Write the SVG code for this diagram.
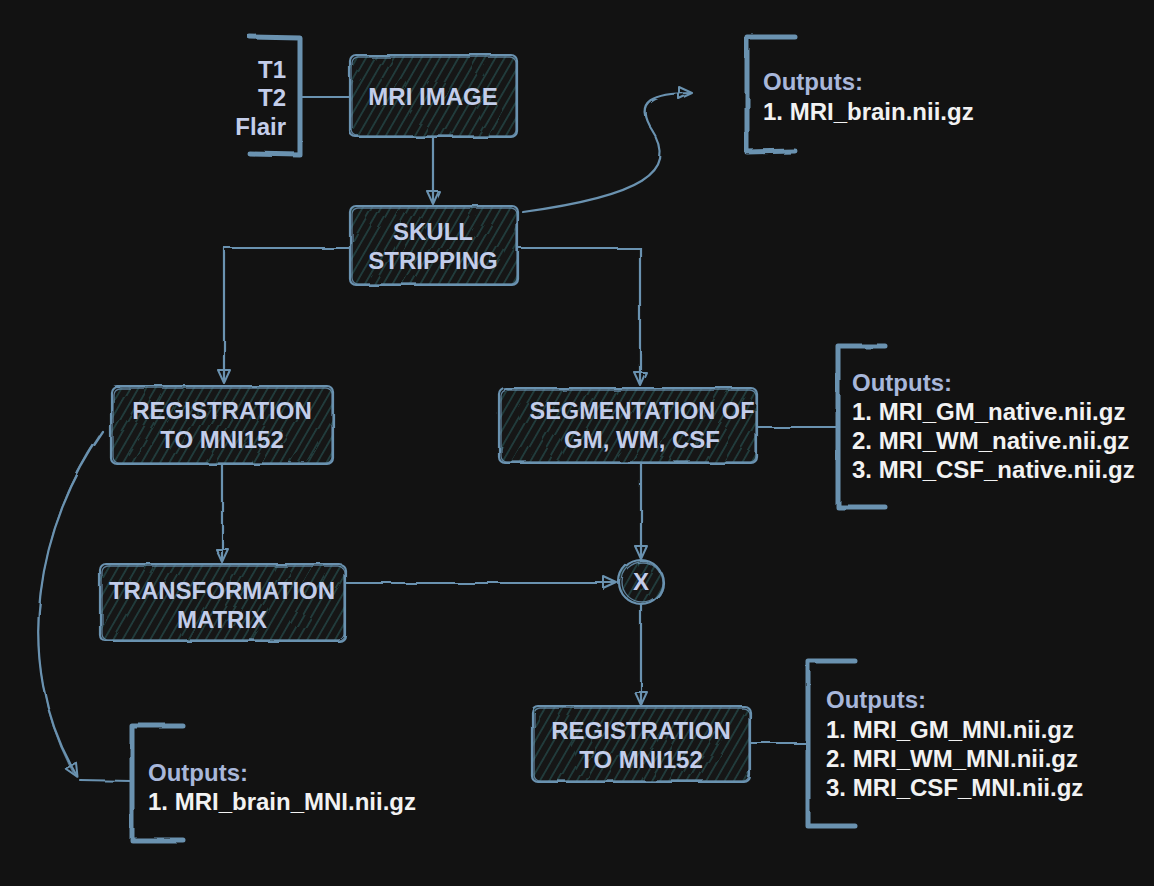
<svg xmlns="http://www.w3.org/2000/svg" width="1154" height="886" viewBox="0 0 1154 886">
<defs>
<style>
.bg{fill:#121212}
.box{fill:url(#hatch);stroke:#6a92b0;stroke-width:2.2;stroke-linejoin:round}
.box2{fill:none;stroke:#6a92b0;stroke-width:1.3;opacity:.85}
.br{fill:none;stroke:#6a92b0;stroke-width:5;stroke-linecap:round;stroke-linejoin:round}
.con{fill:none;stroke:#6a92b0;stroke-width:2.2;stroke-linecap:round}
.con2{fill:none;stroke:#6a92b0;stroke-width:1.2;stroke-linecap:round;opacity:.8}
.t{font-family:"Liberation Sans",Arial,Helvetica,sans-serif;font-weight:bold;font-size:24px;fill:#c3cdea;text-anchor:middle}
.h{font-family:"Liberation Sans",Arial,Helvetica,sans-serif;font-weight:bold;font-size:24px;fill:#a8b7da}
.o{font-family:"Liberation Sans",Arial,Helvetica,sans-serif;font-weight:bold;font-size:24px;fill:#f2f2f2}
</style>
<pattern id="hatch" patternUnits="userSpaceOnUse" width="8" height="8" patternTransform="rotate(30)">
<rect width="8" height="8" fill="#121212"/>
<line x1="2" y1="0" x2="2" y2="8" stroke="#285050" stroke-width="1.3"/>
</pattern>
<marker id="arr" markerWidth="16" markerHeight="14" refX="13" refY="7" orient="auto" markerUnits="userSpaceOnUse">
<path d="M1,1 L14,7 L1,13 Z" fill="none" stroke="#6a92b0" stroke-width="2" stroke-linejoin="round"/>
</marker>
<filter id="rough" x="-5%" y="-5%" width="110%" height="110%">
<feTurbulence type="fractalNoise" baseFrequency="0.03" numOctaves="2" seed="3"/>
<feDisplacementMap in="SourceGraphic" scale="3"/>
</filter>
</defs>
<rect class="bg" x="0" y="0" width="1154" height="886"/>

<g id="connectors" filter="url(#rough)">
<path class="con" d="M300,97 L350,97"/>
<path class="con" d="M433,137 L433,203" marker-end="url(#arr)"/>
<path class="con" d="M523,212 C640,196 680,172 652,130 C632,100 655,93 691,93" marker-end="url(#arr)"/>
<path class="con" d="M350,248 L224,248 L224,382" marker-end="url(#arr)"/>
<path class="con" d="M517,248 L640,248 L640,384" marker-end="url(#arr)"/>
<path class="con" d="M222,464 L222,561" marker-end="url(#arr)"/>
<path class="con" d="M641,463 L641,558" marker-end="url(#arr)"/>
<path class="con" d="M345,583 L616,583" marker-end="url(#arr)"/>
<path class="con" d="M641,604 L641,704" marker-end="url(#arr)"/>
<path class="con" d="M103,432 C40,520 8,660 77,776" marker-end="url(#arr)"/>
<path class="con2" d="M99,436 C38,525 12,662 74,774"/>
<path class="con" d="M80,780 L131,781"/>
<path class="con" d="M757,427 L836,427"/>
<path class="con" d="M750,743 L806,743"/>
</g>

<g id="bracket-inputs">
<path class="br" d="M250,37 L300,38 L300,155 L250,154" filter="url(#rough)"/>
<text class="t" style="text-anchor:end" x="286" y="78">T1</text>
<text class="t" style="text-anchor:end" x="286" y="106">T2</text>
<text class="t" style="text-anchor:end" x="286" y="135">Flair</text>
</g>

<g id="mri-image">
<rect class="box" x="350" y="55" width="167" height="82" rx="6" filter="url(#rough)"/>
<rect class="box2" x="352" y="57" width="164" height="79" rx="6" filter="url(#rough)"/>
<text class="t" x="433" y="105">MRI IMAGE</text>
</g>

<g id="skull-stripping">
<rect class="box" x="350" y="206" width="168" height="79" rx="6" filter="url(#rough)"/>
<rect class="box2" x="352" y="208" width="165" height="76" rx="6" filter="url(#rough)"/>
<text class="t" x="433" y="240">SKULL</text>
<text class="t" x="433" y="269">STRIPPING</text>
</g>

<g id="outputs-brain">
<path class="br" d="M795,37 L747,37 L747,152 L795,151" filter="url(#rough)"/>
<text class="h" x="763" y="90">Outputs:</text>
<text class="o" x="763" y="120">1. MRI_brain.nii.gz</text>
</g>

<g id="registration">
<rect class="box" x="111" y="386" width="222" height="78" rx="6" filter="url(#rough)"/>
<rect class="box2" x="113" y="388" width="219" height="75" rx="6" filter="url(#rough)"/>
<text class="t" x="222" y="419">REGISTRATION</text>
<text class="t" x="222" y="448">TO MNI152</text>
</g>

<g id="segmentation">
<rect class="box" x="499" y="388" width="258" height="75" rx="6" filter="url(#rough)"/>
<rect class="box2" x="501" y="390" width="255" height="72" rx="6" filter="url(#rough)"/>
<text class="t" x="642" y="419" style="font-size:23.5px">SEGMENTATION OF</text>
<text class="t" x="642" y="448">GM, WM, CSF</text>
</g>

<g id="outputs-native">
<path class="br" d="M885,346 L838,346 L838,507 L885,507" filter="url(#rough)"/>
<text class="h" x="852" y="391">Outputs:</text>
<text class="o" x="852" y="420">1. MRI_GM_native.nii.gz</text>
<text class="o" x="852" y="449">2. MRI_WM_native.nii.gz</text>
<text class="o" x="852" y="478">3. MRI_CSF_native.nii.gz</text>
</g>

<g id="transformation">
<rect class="box" x="100" y="564" width="245" height="77" rx="6" filter="url(#rough)"/>
<rect class="box2" x="102" y="566" width="242" height="74" rx="6" filter="url(#rough)"/>
<text class="t" x="222" y="599">TRANSFORMATION</text>
<text class="t" x="222" y="628">MATRIX</text>
</g>

<g id="multiply">
<circle class="box" cx="641" cy="582" r="22" filter="url(#rough)"/>
<circle class="box2" cx="642" cy="582" r="20" filter="url(#rough)"/>
<text class="t" x="641" y="590">X</text>
</g>

<g id="registration-2">
<rect class="box" x="532" y="706" width="218" height="76" rx="6" filter="url(#rough)"/>
<rect class="box2" x="534" y="708" width="215" height="73" rx="6" filter="url(#rough)"/>
<text class="t" x="641" y="739">REGISTRATION</text>
<text class="t" x="641" y="768">TO MNI152</text>
</g>

<g id="outputs-mni">
<path class="br" d="M855,661 L808,661 L808,826 L855,826" filter="url(#rough)"/>
<text class="h" x="826" y="708">Outputs:</text>
<text class="o" x="826" y="738">1. MRI_GM_MNI.nii.gz</text>
<text class="o" x="826" y="767">2. MRI_WM_MNI.nii.gz</text>
<text class="o" x="826" y="796">3. MRI_CSF_MNI.nii.gz</text>
</g>

<g id="outputs-brain-mni">
<path class="br" d="M183,726 L132,726 L132,840 L183,840" filter="url(#rough)"/>
<text class="h" x="148" y="781">Outputs:</text>
<text class="o" x="148" y="810">1. MRI_brain_MNI.nii.gz</text>
</g>
</svg>
